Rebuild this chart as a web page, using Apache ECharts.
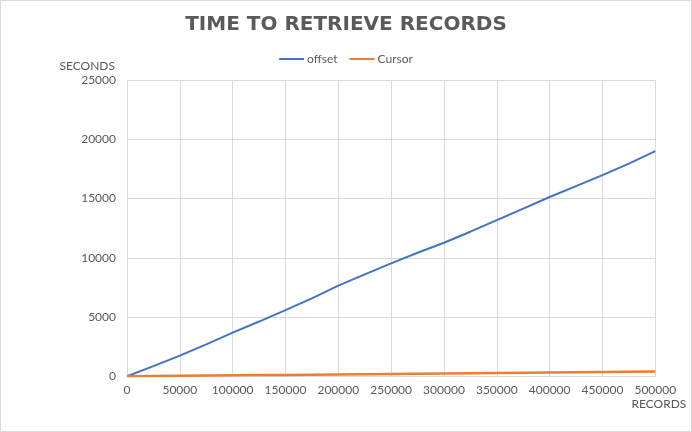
<!DOCTYPE html>
<html>
<head>
<meta charset="utf-8">
<script src="https://cdn.jsdelivr.net/npm/echarts@6/dist/echarts.min.js"></script>
<style>
html,body{margin:0;padding:0;background:#fff;}
#c{width:692px;height:432px;box-sizing:border-box;border:1px solid #d9d9d9;}
</style>
</head>
<body>
<div id="c"></div>
<script>
const records = [0, 25000, 50000, 75000, 100000, 125000, 150000, 175000, 200000, 225000, 250000, 275000, 300000, 325000, 350000, 375000, 400000, 425000, 450000, 475000, 500000];
const offsetSeconds = [0, 860, 1750, 2700, 3680, 4620, 5580, 6580, 7650, 8600, 9530, 10420, 11270, 12200, 13180, 14150, 15130, 16050, 16970, 17950, 19000];
const cursorSeconds = [0, 20, 40, 60, 80, 100, 120, 140, 160, 180, 200, 220, 240, 260, 280, 300, 320, 340, 360, 380, 400];
const seriesNames = ['offset', 'Cursor'];
const yTicks = [0, 5000, 10000, 15000, 20000, 25000];
const xTicks = [0, 50000, 100000, 150000, 200000, 250000, 300000, 350000, 400000, 450000, 500000];

const txt = '#595959';
const font = 'Lato';
const chart = echarts.init(document.getElementById('c'));
chart.setOption({
  animation: false,
  title: {
    text: 'TIME TO RETRIEVE RECORDS',
    left: 'center',
    top: 9,
    textStyle: {fontFamily: 'DejaVu Sans', fontWeight: 'bold', fontSize: 20, color: '#5a5a5a'}
  },
  legend: {
    top: 47,
    left: 'center',
    itemWidth: 25,
    itemHeight: 2,
    itemGap: 12,
    icon: 'rect',
    textStyle: {fontFamily: font, fontSize: 12, color: txt, padding: [0,0,0,-2]},
    data: seriesNames
  },
  grid: {left: 126, right: 35.7, top: 79, bottom: 54.7, containLabel: false},
  xAxis: {
    type: 'value',
    min: xTicks[0],
    max: xTicks[xTicks.length - 1],
    interval: xTicks[1] - xTicks[0],
    name: 'RECORDS',
    nameLocation: 'end',
    nameGap: 31,
    nameTextStyle: {fontFamily: font, fontSize: 12, color: txt, align: 'right', verticalAlign: 'top', padding: [22, 0, 0, 0]},
    axisLine: {show: true, lineStyle: {color: '#d9d9d9'}},
    axisTick: {show: false},
    axisLabel: {fontFamily: font, fontSize: 12, color: txt, margin: 8, formatter: v => String(v)},
    splitLine: {show: true, lineStyle: {color: '#d9d9d9'}}
  },
  yAxis: {
    type: 'value',
    min: yTicks[0],
    max: yTicks[yTicks.length - 1],
    interval: yTicks[1] - yTicks[0],
    name: 'SECONDS',
    nameLocation: 'end',
    nameGap: 8,
    nameTextStyle: {fontFamily: font, fontSize: 12, color: txt, align: 'right', verticalAlign: 'bottom', padding: [0, 12, 0, 0]},
    axisLine: {show: true, lineStyle: {color: '#d9d9d9'}},
    axisTick: {show: false},
    axisLabel: {fontFamily: font, fontSize: 12, color: txt, margin: 11, formatter: v => String(v)},
    splitLine: {show: true, lineStyle: {color: '#d9d9d9'}}
  },
  series: [
    {
      name: seriesNames[0],
      type: 'line',
      data: records.map((x, i) => [x, offsetSeconds[i]]),
      showSymbol: false,
      symbol: 'none',
      lineStyle: {color: '#4472C4', width: 2},
      itemStyle: {color: '#4472C4'},
      z: 3
    },
    {
      name: seriesNames[1],
      type: 'line',
      data: records.map((x, i) => [x, cursorSeconds[i]]),
      showSymbol: false,
      symbol: 'none',
      lineStyle: {color: '#ED7D31', width: 2.5},
      itemStyle: {color: '#ED7D31'},
      z: 4
    }
  ]
});
</script>
</body>
</html>
